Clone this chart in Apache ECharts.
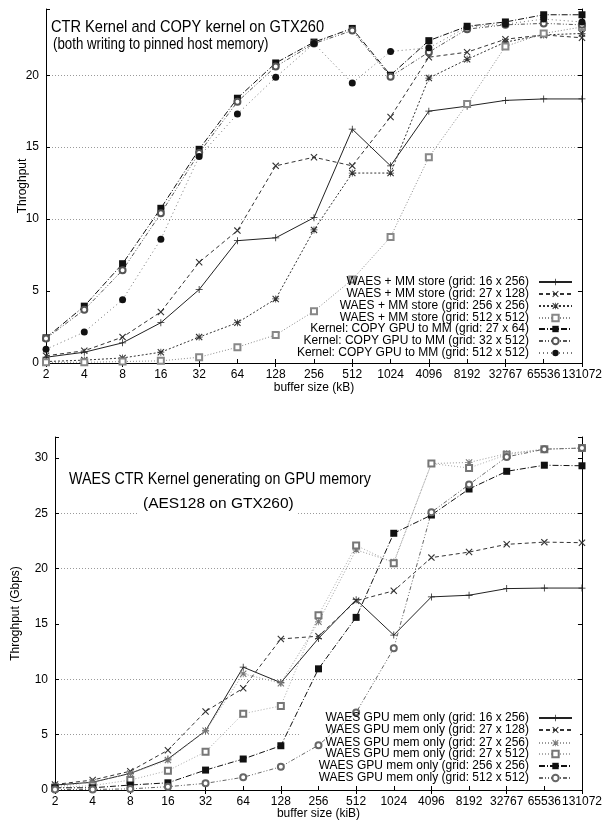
<!DOCTYPE html>
<html><head><meta charset="utf-8">
<script src="https://cdn.jsdelivr.net/npm/echarts@6/dist/echarts.min.js"></script>
<style>html,body{margin:0;padding:0;background:#fff}#c{width:605px;height:825px}</style>
</head><body><div id="c"></div>
<script>
// ---------- data ----------
const bufferSizes = ['2','4','8','16','32','64','128','256','512','1024','4096','8192','32767','65536','131072'];

// chart 1: CTR kernel and COPY kernel writing to pinned host memory
const c1Names = [
  'WAES + MM store (grid: 16 x 256)',
  'WAES + MM store (grid: 27 x 128)',
  'WAES + MM store (grid: 256 x 256)',
  'WAES + MM store (grid: 512 x 512)',
  'Kernel: COPY GPU to MM (grid: 27 x 64)',
  'Kernel: COPY GPU to MM (grid: 32 x 512)',
  'Kernel: COPY GPU to MM (grid: 512 x 512)'
];
const mmStore16x256  = [0.4, 0.75, 1.4, 2.8, 5.1, 8.5, 8.7, 10.1, 16.25, 13.7, 17.5, 17.85, 18.25, 18.35, 18.35];
const mmStore27x128  = [0.5, 0.85, 1.8, 3.55, 7.0, 9.2, 13.7, 14.3, 13.7, 17.1, 21.25, 21.6, 22.5, 22.8, 22.6];
const mmStore256x256 = [0.1, 0.2, 0.35, 0.75, 1.8, 2.8, 4.45, 9.25, 13.2, 13.2, 19.8, 21.1, 22.3, 22.8, 22.9];
const mmStore512x512 = [0.05, 0.05, 0.1, 0.15, 0.4, 1.1, 1.95, 3.6, 5.8, 8.75, 14.3, 18.0, 22.0, 22.9, 23.35];
const copy27x64      = [1.75, 3.95, 6.9, 10.75, 14.85, 18.4, 20.85, 22.3, 23.25, 20.0, 22.4, 23.4, 23.7, 24.2, 24.2];
const copy32x512     = [1.7, 3.7, 6.45, 10.4, 14.6, 18.15, 20.6, 22.2, 23.1, 19.9, 21.6, 23.2, 23.5, 23.6, 23.5];
const copy512x512    = [0.95, 2.15, 4.4, 8.6, 14.35, 17.3, 19.85, 22.2, 19.45, 21.65, 21.9, 23.35, 23.55, 23.9, 23.7];
const c1Values = [mmStore16x256, mmStore27x128, mmStore256x256, mmStore512x512, copy27x64, copy32x512, copy512x512];
const c1YTicks = [0, 5, 10, 15, 20];

// chart 2: WAES CTR kernel generating on GPU memory
const c2Names = [
  'WAES GPU mem only (grid: 16 x 256)',
  'WAES GPU mem only (grid: 27 x 128)',
  'WAES GPU mem only (grid: 27 x 256)',
  'WAES GPU mem only (grid: 27 x 512)',
  'WAES GPU mem only (grid: 256 x 256)',
  'WAES GPU mem only (grid: 512 x 512)'
];
const gpu16x256  = [0.45, 0.7, 1.5, 2.8, 5.35, 11.1, 9.7, 13.7, 17.2, 14.0, 17.45, 17.6, 18.2, 18.25, 18.25];
const gpu27x128  = [0.5, 0.9, 1.7, 3.6, 7.1, 9.2, 13.65, 13.9, 17.1, 18.0, 21.0, 21.5, 22.2, 22.4, 22.35];
const gpu27x256  = [0.3, 0.7, 1.5, 2.7, 5.35, 10.5, 9.65, 15.2, 21.7, 20.6, 29.5, 29.6, 30.4, 30.8, 30.9];
const gpu27x512  = [0.2, 0.4, 0.9, 1.75, 3.45, 6.9, 7.6, 15.8, 22.1, 20.5, 29.5, 29.1, 30.3, 30.8, 30.9];
const gpu256x256 = [0.2, 0.2, 0.45, 0.65, 1.8, 2.8, 4.0, 10.95, 15.6, 23.2, 24.85, 27.2, 28.8, 29.35, 29.3];
const gpu512x512 = [0.05, 0.05, 0.1, 0.3, 0.6, 1.15, 2.1, 4.05, 7.0, 12.8, 25.1, 27.6, 30.1, 30.8, 30.9];
const c2Values = [gpu16x256, gpu27x128, gpu27x256, gpu27x512, gpu256x256, gpu512x512];
const c2YTicks = [0, 5, 10, 15, 20, 25, 30];

// ---------- styles ----------
const FONT = '"Liberation Sans", Arial, Helvetica, sans-serif';
const PLUS_P = 'M4,0h1v4h4v1h-4v4h-1v-4h-4v-1h4z';
const CROSS_P = 'M0,1L1,0L4.5,3.5L8,0L9,1L5.5,4.5L9,8L8,9L4.5,5.5L1,9L0,8L3.5,4.5Z';
const PLUS = 'path://' + PLUS_P;
const CROSS = 'path://' + CROSS_P;
const STAR = 'path://' + PLUS_P + ' ' + CROSS_P;

const c1Styles = [
  {sym: PLUS, size: 7, color: '#222', dash: 'solid'},
  {sym: CROSS, size: 7, color: '#333', dash: [4, 3]},
  {sym: STAR, size: 7, color: '#333', dash: [2, 2]},
  {sym: 'emptyRect', size: 6, color: '#888', dash: [1, 2]},
  {sym: 'rect', size: 7, color: '#111', dash: [6, 2, 1, 2]},
  {sym: 'emptyCircle', size: 6, color: '#555', dash: [4, 2, 1, 2, 1, 2]},
  {sym: 'circle', size: 7, color: '#111', dash: [1, 3], lineColor: '#777'}
];
const c2Styles = [
  {sym: PLUS, size: 7, color: '#222', dash: 'solid'},
  {sym: CROSS, size: 7, color: '#333', dash: [4, 3]},
  {sym: STAR, size: 7, color: '#777', dash: [1, 2], lineColor: '#999'},
  {sym: 'emptyRect', size: 6, color: '#777', dash: [1, 2], lineColor: '#aaa'},
  {sym: 'rect', size: 7, color: '#111', dash: [6, 2, 1, 2]},
  {sym: 'emptyCircle', size: 6, color: '#666', dash: [4, 2, 1, 2, 1, 2]}
];

function makeSeries(names, values, styles, idx) {
  return names.map((n, i) => ({
    name: n, type: 'line', xAxisIndex: idx * 2, yAxisIndex: idx * 2,
    data: values[i],
    symbol: styles[i].sym, symbolSize: styles[i].size,
    showAllSymbol: true,
    itemStyle: {color: styles[i].color},
    lineStyle: {color: styles[i].lineColor || styles[i].color, width: 1, type: styles[i].dash},
    emphasis: {disabled: true}, z: 3
  }));
}

function xAxes(grid, name, gap) {
  return [
    {type: 'category', gridIndex: grid, data: bufferSizes, boundaryGap: false, position: 'bottom',
     name: name, nameLocation: 'middle', nameGap: gap, nameMoveOverlap: false,
     nameTextStyle: {fontFamily: FONT, fontSize: 12, color: '#000'},
     axisLine: {lineStyle: {color: '#000', width: 1}},
     axisTick: {inside: true, length: 4, alignWithLabel: true, lineStyle: {color: '#000'}},
     axisLabel: {interval: 0, margin: 6, fontFamily: FONT, fontSize: 12, color: '#000'},
     splitLine: {show: false}},
    {type: 'category', gridIndex: grid, data: bufferSizes, boundaryGap: false, position: 'top',
     axisLine: {lineStyle: {color: '#000', width: 1}},
     axisTick: {inside: true, length: 4, lineStyle: {color: '#000'}},
     axisLabel: {show: false}, splitLine: {show: false}}
  ];
}
function yAxes(grid, ticks, max, name, gap, gridColors) {
  return [
    {type: 'value', gridIndex: grid, min: 0, max: max, interval: 5, position: 'left',
     name: name, nameLocation: 'middle', nameGap: gap, nameMoveOverlap: false,
     nameTextStyle: {fontFamily: FONT, fontSize: 12, color: '#000'},
     axisLine: {show: true, lineStyle: {color: '#000', width: 1}},
     axisTick: {show: true, inside: true, length: 4, lineStyle: {color: '#000'}},
     axisLabel: {margin: 7, fontFamily: FONT, fontSize: 12, color: '#000',
       formatter: v => (ticks.indexOf(v) >= 0 ? String(v) : '')},
     splitLine: {show: true, lineStyle: {color: gridColors, type: [1, 2], width: 1}}},
    {type: 'value', gridIndex: grid, min: 0, max: max, interval: 5, position: 'right',
     axisLine: {show: true, lineStyle: {color: '#000', width: 1}},
     axisTick: {show: true, inside: true, length: 4, lineStyle: {color: '#000'}},
     axisLabel: {show: false}, splitLine: {show: false}}
  ];
}

function legends(names, centers) {
  return names.map((n, i) => ({
    data: [n], right: 32, top: centers[i] - 7, orient: 'horizontal', align: 'right',
    itemWidth: 33, itemHeight: 8, itemGap: 0, padding: 0, selectedMode: false,
    textStyle: {fontFamily: FONT, fontSize: 12, color: '#000', lineHeight: 14, padding: [0, 5, 0, 0]}
  }));
}

function label(text, x, y, size, sx, extra) {
  return Object.assign({type: 'text', z: 5, x: x, y: y, scaleX: sx,
    style: Object.assign({text: text, x: 0, y: 0, verticalAlign: 'middle', textVerticalAlign: 'middle',
      font: size + 'px ' + FONT, fill: '#000'}, extra || {})});
}

const T = 'rgba(0,0,0,0)', G = '#9a9a9a';
const option = {
  animation: false,
  backgroundColor: '#fff',
  grid: [
    {left: 46, right: 19, top: 9, bottom: 462, containLabel: false},
    {left: 55, right: 18, top: 437, bottom: 35, containLabel: false}
  ],
  xAxis: [...xAxes(0, 'buffer size (kB)', 19), ...xAxes(1, 'buffer size (kiB)', 18)],
  yAxis: [
    ...yAxes(0, c1YTicks, 24.6, 'Throghput', 17, [T, T, G, G, G, T]),
    ...yAxes(1, c2YTicks, 31.9, 'Throghput (Gbps)', 33, [T, G, G, T, G, G, T, T])
  ],
  legend: [
    ...legends(c1Names, [282, 294, 306, 318, 329, 341, 353]),
    ...legends(c2Names, [718, 730, 743, 754, 766, 778])
  ],
  graphic: [
    {type: 'rect', z: 1, shape: {x: 300, y: 712, width: 280, height: 72}, style: {fill: '#fff'}},
    label('CTR Kernel and COPY kernel on GTX260', 51, 27, 17, 0.86),
    label('(both writing to pinned host memory)', 53, 45, 16, 0.83),
    label('WAES CTR Kernel generating on GPU memory', 69, 479, 17, 0.84),
    label('(AES128 on GTX260)', 139, 504, 15.5, 1, {backgroundColor: '#fff', padding: [2, 4]})
  ],
  series: [...makeSeries(c1Names, c1Values, c1Styles, 0), ...makeSeries(c2Names, c2Values, c2Styles, 1)]
};
const chart = echarts.init(document.getElementById('c'), null, {renderer: 'canvas'});
chart.setOption(option);
</script>
</body></html>
